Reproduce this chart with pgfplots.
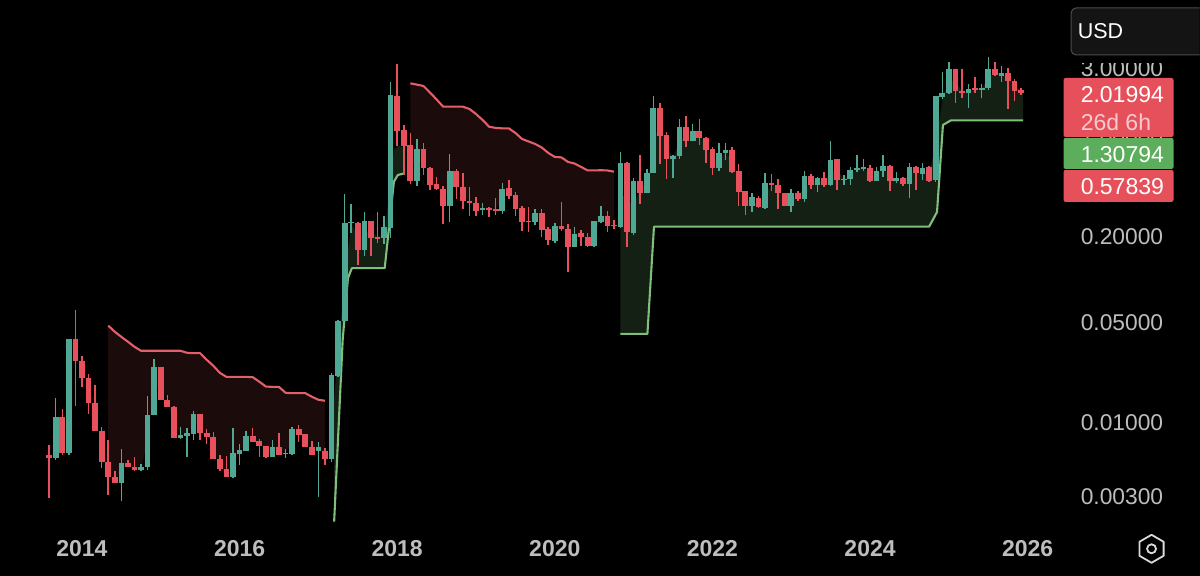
\documentclass[border=0pt]{standalone}
\usepackage{fontspec}
\setmainfont{Liberation Sans}
\usepackage{pgfplots}
\usepackage{pgfplotstable}
\pgfplotsset{compat=1.18}
\definecolor{upc}{HTML}{4FA893}
\definecolor{downc}{HTML}{E8505B}
\definecolor{stgreen}{HTML}{7FBF7B}
\definecolor{stred}{HTML}{E2606A}
\definecolor{fillg}{HTML}{142014}
\definecolor{fillr}{HTML}{1C0B0B}
\definecolor{tagred}{HTML}{E5505A}
\definecolor{taggreen}{HTML}{5CAD5C}
\definecolor{ticktxt}{HTML}{BDBDBD}
% months since Jan 2014, open, high, low, close (USD)
\pgfplotstableread{
i o h l c
-5 0.00592 0.00695 0.00296 0.00564
-4 0.00564 0.01486 0.00546 0.01093
-3 0.01093 0.01244 0.00592 0.00612
-2 0.00612 0.0385 0.00592 0.0385
-1 0.0385 0.0614 0.01306 0.0270
0 0.0270 0.0292 0.0178 0.0205
1 0.0205 0.0218 0.01147 0.0137
2 0.0137 0.01835 0.00872 0.00872
3 0.00872 0.0093 0.0048 0.00529
4 0.00529 0.00754 0.00311 0.00415
5 0.00415 0.00458 0.00377 0.00377
6 0.00377 0.00652 0.00281 0.0052
7 0.0052 0.00546 0.00488 0.00488
8 0.00488 0.00573 0.00458 0.00465
9 0.00465 0.00512 0.00458 0.00488
10 0.00488 0.01535 0.00465 0.01129
11 0.01129 0.0279 0.0112 0.0245
12 0.0245 0.0245 0.01438 0.01438
13 0.01438 0.0156 0.01284 0.01284
14 0.01284 0.01306 0.00779 0.00779
15 0.00779 0.0093 0.00766 0.00817
16 0.00805 0.00915 0.00573 0.00844
17 0.0083 0.01204 0.00754 0.01147
18 0.01147 0.01147 0.00754 0.00844
19 0.00844 0.0090 0.00707 0.00791
20 0.00791 0.0086 0.00555 0.00555
21 0.00555 0.00592 0.00458 0.00472
22 0.00472 0.00583 0.00415 0.00415
23 0.00415 0.00915 0.00409 0.00612
24 0.00602 0.00707 0.00503 0.00642
25 0.00632 0.00872 0.00632 0.00805
26 0.00805 0.00915 0.0073 0.0073
27 0.00742 0.00766 0.00573 0.00685
28 0.00685 0.00685 0.00564 0.00573
29 0.00573 0.00754 0.00573 0.00673
30 0.00673 0.00844 0.00592 0.00592
31 0.00602 0.00652 0.00564 0.00612
32 0.00602 0.0093 0.00592 0.0090
33 0.0090 0.0096 0.0073 0.00817
34 0.0083 0.0083 0.00673 0.00673
35 0.00673 0.00742 0.00592 0.00592
36 0.00632 0.0073 0.00301 0.00673
37 0.00632 0.00663 0.00503 0.00555
38 0.00555 0.0222 0.00529 0.0215
39 0.0212 0.0523 0.0208 0.0515
40 0.0515 0.399 0.0515 0.250
41 0.248 0.339 0.2127 0.254
42 0.250 0.254 0.1269 0.1617
43 0.1617 0.298 0.1468 0.258
44 0.258 0.258 0.1468 0.196
45 0.200 0.298 0.181 0.193
46 0.196 0.280 0.178 0.234
47 0.2306 2.432 0.196 1.971
48 1.94 3.25 0.866 1.103
49 1.121 1.214 0.542 0.866
50 0.880 1.068 0.4685 0.492
51 0.492 0.970 0.454 0.825
52 0.825 0.909 0.542 0.607
53 0.607 0.617 0.4257 0.461
54 0.4685 0.525 0.4257 0.4325
55 0.4325 0.454 0.246 0.329
56 0.329 0.761 0.254 0.579
57 0.579 0.598 0.368 0.4465
58 0.4465 0.560 0.313 0.356
59 0.356 0.4465 0.280 0.345
60 0.345 0.380 0.280 0.303
61 0.3083 0.345 0.284 0.318
62 0.318 0.323 0.275 0.3083
63 0.313 0.374 0.284 0.303
64 0.303 0.4765 0.289 0.4325
65 0.4395 0.500 0.368 0.3865
66 0.3925 0.412 0.280 0.313
67 0.318 0.329 0.2196 0.254
68 0.258 0.323 0.216 0.254
69 0.254 0.313 0.242 0.294
70 0.294 0.313 0.1993 0.2232
71 0.2269 0.234 0.175 0.190
72 0.187 0.250 0.181 0.238
73 0.238 0.3506 0.2196 0.2269
74 0.2269 0.246 0.1134 0.1697
75 0.1697 0.234 0.1697 0.209
76 0.2127 0.2232 0.1725 0.1993
77 0.1993 0.2127 0.1697 0.1725
78 0.1725 0.258 0.1697 0.258
79 0.254 0.329 0.250 0.280
80 0.280 0.303 0.216 0.238
81 0.242 0.2623 0.2269 0.238
82 0.234 0.786 0.2306 0.6585
83 0.6585 0.668 0.1697 0.216
84 0.2127 0.517 0.206 0.492
85 0.492 0.749 0.339 0.4057
86 0.4057 0.598 0.4057 0.560
87 0.560 1.94 0.560 1.599
88 1.599 1.733 0.6475 1.018
89 1.034 1.085 0.509 0.702
90 0.702 0.749 0.517 0.737
91 0.737 1.339 0.702 1.176
92 1.176 1.406 0.852 0.939
93 0.939 1.234 0.939 1.103
94 1.103 1.339 0.880 0.985
95 0.985 1.000 0.6585 0.812
96 0.825 0.852 0.542 0.607
97 0.607 0.909 0.579 0.774
98 0.774 0.909 0.691 0.812
99 0.812 0.852 0.560 0.569
100 0.579 0.6475 0.329 0.412
101 0.419 0.419 0.284 0.329
102 0.329 0.4057 0.298 0.380
103 0.374 0.3865 0.318 0.323
104 0.318 0.560 0.313 0.4765
105 0.4765 0.551 0.419 0.461
106 0.461 0.509 0.313 0.4057
107 0.4057 0.4057 0.329 0.329
108 0.329 0.4325 0.298 0.4057
109 0.4057 0.419 0.356 0.368
110 0.368 0.579 0.3506 0.534
111 0.534 0.551 0.4325 0.461
112 0.461 0.525 0.412 0.517
113 0.517 0.569 0.4465 0.461
114 0.461 0.939 0.454 0.691
115 0.702 0.702 0.4257 0.500
116 0.500 0.542 0.461 0.509
117 0.509 0.617 0.461 0.588
118 0.588 0.749 0.569 0.607
119 0.598 0.702 0.579 0.617
120 0.607 0.637 0.484 0.492
121 0.492 0.617 0.492 0.579
122 0.579 0.749 0.525 0.627
123 0.627 0.637 0.419 0.492
124 0.492 0.569 0.4765 0.517
125 0.517 0.525 0.454 0.4685
126 0.4685 0.6585 0.374 0.617
127 0.617 0.627 0.4257 0.560
128 0.551 0.6585 0.500 0.607
129 0.617 0.627 0.484 0.492
130 0.500 1.94 0.484 1.94
131 1.909 2.858 1.849 2.038
132 2.038 3.358 2.003 3.000
133 3.000 3.000 1.733 2.104
134 2.104 3.000 1.879 2.038
135 2.038 2.354 1.599 2.173
136 2.208 2.636 2.038 2.138
137 2.138 2.354 1.879 2.208
138 2.208 3.64 2.138 3.000
139 3.000 3.358 2.68 2.722
140 2.68 3.15 2.432 2.813
141 2.813 3.05 1.573 2.472
142 2.472 2.553 1.79 2.104
143 2.138 2.208 1.971 2.020
}\candles
\pgfplotstableread{
i st mid
4 0.0476 0.00469
5 0.0431 0.00396
6 0.0397 0.00443
7 0.0367 0.00503
8 0.0338 0.00477
9 0.0317 0.00477
10 0.0317 0.00742
11 0.0317 0.01665
12 0.0317 0.0188
13 0.0317 0.0136
14 0.0317 0.01008
15 0.0317 0.00797
16 0.0307 0.00823
17 0.0305 0.00976
18 0.0305 0.00985
19 0.0274 0.00817
20 0.0249 0.00663
21 0.0222 0.00512
22 0.0208 0.00443
23 0.0208 0.00503
24 0.0208 0.00622
25 0.0208 0.00712
26 0.0207 0.00766
27 0.01926 0.00712
28 0.0178 0.00627
29 0.0177 0.00622
30 0.0177 0.00632
31 0.0161 0.00607
32 0.0160 0.00736
33 0.0160 0.00858
34 0.0160 0.00748
35 0.0151 0.00632
36 0.01438 0.00652
37 0.01415 0.00592
}\redone
\pgfplotstableread{
i st mid
50 2.379 0.6585
51 2.33 0.637
52 2.28 0.708
53 2.05 0.529
54 1.834 0.45
55 1.632 0.377
56 1.632 0.436
57 1.632 0.509
58 1.632 0.399
59 1.573 0.3506
60 1.45 0.323
61 1.317 0.313
62 1.181 0.313
63 1.158 0.3083
64 1.15 0.3622
65 1.15 0.412
66 1.068 0.3506
67 0.97 0.284
68 0.931 0.256
69 0.894 0.27
70 0.845 0.256
71 0.774 0.2075
72 0.725 0.211
73 0.72 0.232
74 0.669 0.196
75 0.652 0.187
76 0.617 0.206
77 0.583 0.186
78 0.583 0.211
79 0.585 0.267
80 0.583 0.258
81 0.572 0.24
}\redtwo
\pgfplotstableread{
i st mid
38.4 0.00201 0.015
39.7 0.0379 0.0722
40.5 0.1024 0.1617
41.1 0.1204 0.246
42 0.1204 0.2009
43 0.1204 0.2045
44 0.1204 0.225
45 0.1204 0.196
46.1 0.1204 0.2144
47.5 0.4865 0.812
48.1 0.542 0.866
49 0.555 0.852
}\greenone
\pgfplotstableread{
i st mid
82 0.0417 0.3925
83 0.0417 0.377
84 0.0417 0.323
85 0.0417 0.4465
86.1 0.0417 0.4765
87.1 0.2353 0.946
88 0.2353 1.278
89 0.2353 0.852
90 0.2353 0.715
91 0.2353 0.931
92 0.2353 1.051
93 0.2353 1.018
94 0.2353 1.043
95 0.2353 0.894
96 0.2353 0.708
97 0.2353 0.682
98 0.2353 0.792
99 0.2353 0.68
100 0.2353 0.488
101 0.2353 0.37
102 0.2353 0.348
103 0.2353 0.3445
104 0.2353 0.388
105 0.2353 0.4685
106 0.2353 0.4325
107 0.2353 0.365
108 0.2353 0.365
109 0.2353 0.3865
110 0.2353 0.44
111 0.2353 0.496
112 0.2353 0.488
113 0.2353 0.488
114 0.2353 0.565
115 0.2353 0.595
116 0.2353 0.504
117 0.2353 0.547
118 0.2353 0.598
119 0.2353 0.607
120 0.2353 0.547
121 0.2353 0.534
122 0.2353 0.603
123 0.2353 0.555
124 0.2353 0.504
125 0.2353 0.492
126 0.2353 0.538
127 0.2353 0.588
128 0.2353 0.579
129 0.2353 0.551
130.2 0.298 0.985
131.1 1.214 1.971
132.3 1.308 2.472
133 1.308 2.512
134 1.308 2.07
135 1.308 2.104
136 1.308 2.173
137 1.308 2.173
138 1.308 2.6
139 1.308 2.858
140 1.308 2.76
141 1.308 2.636
142 1.308 2.28
143.3 1.308 2.07
}\greentwo
\newcommand{\trend}[3]{% table, line colour, fill colour
  \pgfplotstablegetrowsof{#1}%
  \pgfmathtruncatemacro\tn{\pgfplotsretval-1}%
  \gdef\poly{}%
  \foreach \k in {0,...,\tn}{%
    \pgfplotstablegetelem{\k}{i}\of#1\let\vi\pgfplotsretval
    \pgfplotstablegetelem{\k}{st}\of#1\let\vs\pgfplotsretval
    \xdef\poly{\poly (\vi,\vs)}%
  }%
  \foreach \k in {0,...,\tn}{%
    \pgfmathtruncatemacro\rr{\tn-\k}%
    \pgfplotstablegetelem{\rr}{i}\of#1\let\vi\pgfplotsretval
    \pgfplotstablegetelem{\rr}{mid}\of#1\let\vs\pgfplotsretval
    \xdef\poly{\poly (\vi,\vs)}%
  }%
  \edef\temp{\noexpand\addplot[fill=#3,draw=none,forget plot] coordinates {\poly} -- cycle;}%
  \temp
  \addplot[draw=#2, line width=2.1pt, line join=round, forget plot] table[x=i,y=st]{#1};
}
\begin{document}
\begin{tikzpicture}[x=1pt,y=1pt]
\fill[black] (0,0) rectangle (1200,576);
\begin{axis}[
  at={(0pt,46pt)}, anchor=south west, scale only axis, width=1072pt, height=530pt,
  ymode=log, log basis y=10,
  xmin=-12.481, xmax=150.685, ymin=0.001762, ymax=9.136,
  axis line style={draw=none}, major tick length=0pt, minor tick length=0pt, tick style={draw=none},
  xtick={0,24,48,72,96,120,144},
  xticklabels={2014,2016,2018,2020,2022,2024,2026},
  ytick={0.003,0.01,0.05,0.2,1,3},
  yticklabels={0.00300,0.01000,0.05000,0.20000,1.00000,3.00000},
  yticklabel pos=right,
  xticklabel style={font=\fontsize{23}{24}\selectfont\bfseries, text=ticktxt, inner sep=0pt, yshift=-10pt},
  yticklabel style={font=\fontsize{22.8}{24}\selectfont, text=ticktxt, inner sep=0pt, anchor=west, xshift=9pt},
]
\trend{\redone}{stred}{fillr}
\trend{\redtwo}{stred}{fillr}
\trend{\greenone}{stgreen}{fillg}
\trend{\greentwo}{stgreen}{fillg}
\pgfplotstablegetrowsof{\candles}
\pgfmathtruncatemacro\nrows{\pgfplotsretval-1}
\pgfplotsinvokeforeach{0,...,\nrows}{
  \pgfplotstablegetelem{#1}{i}\of\candles \let\vi\pgfplotsretval
  \pgfplotstablegetelem{#1}{o}\of\candles \let\vo\pgfplotsretval
  \pgfplotstablegetelem{#1}{h}\of\candles \let\vh\pgfplotsretval
  \pgfplotstablegetelem{#1}{l}\of\candles \let\vl\pgfplotsretval
  \pgfplotstablegetelem{#1}{c}\of\candles \let\vc\pgfplotsretval
  \ifdim\vc pt<\vo pt \def\col{downc}\else\def\col{upc}\fi
  \edef\temp{\noexpand\addplot[draw=\col,line width=1.5pt,forget plot] coordinates {(\vi,\vl)(\vi,\vh)};
    \noexpand\addplot[draw=\col,line width=5.7pt,forget plot] coordinates {(\vi,\vo)(\vi,\vc)};}
  \temp
}
\end{axis}
% price scale overlays
\fill[black] (1064,512.5) rectangle (1200,521);
\draw[draw=black!70!white, fill=black!92!white, line width=1pt, rounded corners=5pt] (1200,568) -- (1071.5,568) -- (1071.5,521) -- (1200,521);
\node[anchor=west, inner sep=0pt, text=white, font=\fontsize{21.5}{24}\selectfont] at (1078,545) {USD};
\fill[tagred, rounded corners=2pt] (1064,439) rectangle (1174,498);
\fill[taggreen, rounded corners=2pt] (1064,407) rectangle (1174,438);
\fill[tagred, rounded corners=2pt] (1064,374) rectangle (1174,406);
\node[anchor=west, inner sep=0pt, text=white, font=\fontsize{23}{24}\selectfont] at (1081,481) {2.01994};
\node[anchor=west, inner sep=0pt, text=white!70!tagred, font=\fontsize{23}{24}\selectfont] at (1081,454) {26d 6h};
\node[anchor=west, inner sep=0pt, text=white, font=\fontsize{23}{24}\selectfont] at (1081,421) {1.30794};
\node[anchor=west, inner sep=0pt, text=white, font=\fontsize{23}{24}\selectfont] at (1081,389) {0.57839};
\draw[white!85!black, line width=1.8pt, line join=round] (1152,41) -- (1164.1,34) -- (1164.1,20) -- (1152,13) -- (1139.9,20) -- (1139.9,34) -- cycle;
\draw[white!85!black, line width=1.8pt] (1152,27) circle (4.5);
\end{tikzpicture}
\end{document}
